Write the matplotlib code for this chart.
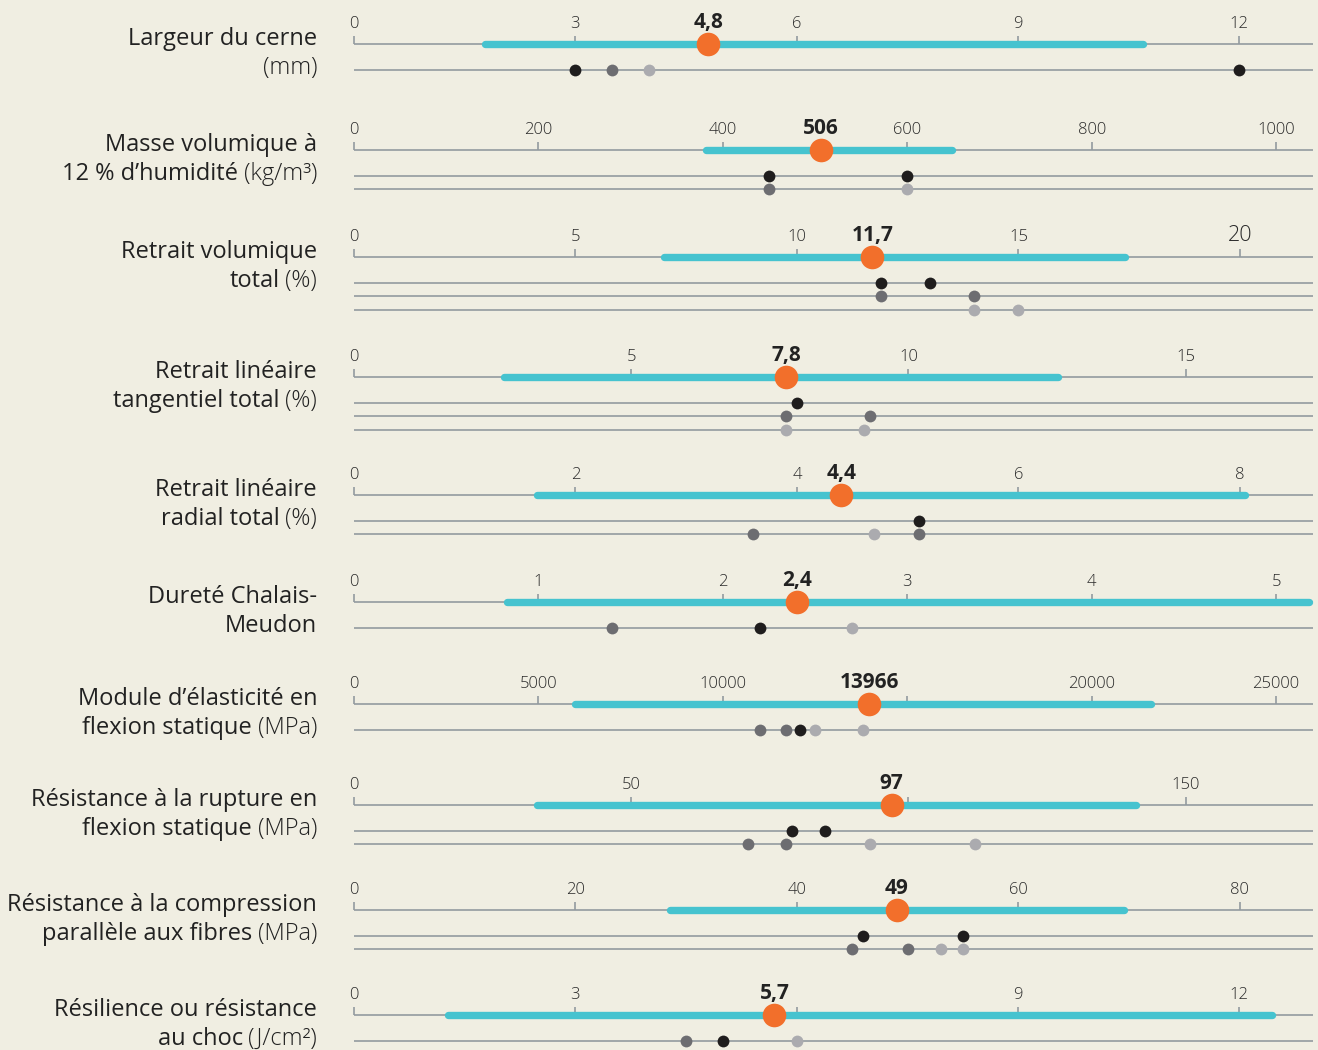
import matplotlib
matplotlib.use("Agg")
import matplotlib.pyplot as plt

# ---------------- data ----------------
label_line1 = ["Largeur du cerne", "Masse volumique à", "Retrait volumique", "Retrait linéaire",
               "Retrait linéaire", "Dureté Chalais-", "Module d’élasticité en",
               "Résistance à la rupture en", "Résistance à la compression", "Résilience ou résistance"]
label_line2 = ["", "12 % d’humidité", "total", "tangentiel total", "radial total", "Meudon",
               "flexion statique", "flexion statique", "parallèle aux fibres", "au choc"]
units = ["(mm)", "(kg/m³)", "(%)", "(%)", "(%)", "", "(MPa)", "(MPa)", "(MPa)", "(J/cm²)"]

x_max = [13.0, 1040, 21.65, 17.3, 8.66, 5.2, 26000, 173, 86.6, 13.0]
ticks = [[0, 3, 6, 9, 12], [0, 200, 400, 600, 800, 1000], [0, 5, 10, 15, 20], [0, 5, 10, 15],
         [0, 2, 4, 6, 8], [0, 1, 2, 3, 4, 5], [0, 5000, 10000, 15000, 20000, 25000],
         [0, 50, 100, 150], [0, 20, 40, 60, 80], [0, 3, 6, 9, 12]]
range_lo = [1.78, 382, 7.0, 2.7, 1.65, 0.83, 5980, 33, 28.5, 1.28]
range_hi = [10.7, 648, 17.4, 12.7, 8.05, 5.18, 21600, 141, 69.5, 12.45]
means = [4.8, 506, 11.7, 7.8, 4.4, 2.4, 13966, 97, 49, 5.7]

# comparison dots: per row, per line, (value, shade)
dots = [
    [[(3.0, "k"), (3.5, "d"), (4.0, "l"), (12.0, "k")]],
    [[(450, "k"), (600, "k")], [(450, "d"), (600, "l")]],
    [[(11.9, "k"), (13.0, "k")], [(11.9, "d"), (14.0, "d")], [(14.0, "l"), (15.0, "l")]],
    [[(8.0, "k")], [(7.8, "d"), (9.3, "d")], [(7.8, "l"), (9.2, "l")]],
    [[(5.1, "k")], [(3.6, "d"), (4.7, "l"), (5.1, "d")]],
    [[(1.4, "d"), (2.2, "k"), (2.7, "l")]],
    [[(11000, "d"), (11700, "d"), (12100, "k"), (12500, "l"), (13800, "l")]],
    [[(79, "k"), (85, "k")], [(71, "d"), (78, "d"), (93, "l"), (112, "l")]],
    [[(46, "k"), (55, "k")], [(45, "d"), (50, "d"), (53, "l"), (55, "l")]],
    [[(4.5, "d"), (5.0, "k"), (6.0, "l")]],
]

# ---------------- style / layout ----------------
W, H = 1318, 1050
BG = "#F0EEE2"
CYAN = "#46C3CF"
ORANGE = "#F26F2B"
AXIS = "#939A9F"
SHADES = {"k": "#1F1D1D", "d": "#6D6D71", "l": "#ABABAF"}
TXT = "#222222"
FONT = ["Open Sans", "DejaVu Sans"]
row_y = [44, 150, 257, 377, 495, 602, 704, 805, 910, 1015]
AX_L, AX_R = 354, 1313
LABEL_X = 317
LFS = 17

plt.rcParams["font.family"] = FONT

fig = plt.figure(figsize=(W / 100, H / 100), dpi=100)
fig.patch.set_facecolor(BG)

lab_ax = fig.add_axes([0, 0, 1, 1])
lab_ax.set_xlim(0, W)
lab_ax.set_ylim(H, 0)
lab_ax.axis("off")
lab_ax.patch.set_visible(False)

for i in range(len(row_y)):
    y = row_y[i]
    ax = fig.add_axes([AX_L / W, 0, (AX_R - AX_L) / W, 1])
    ax.set_xlim(0, x_max[i])
    ax.set_ylim(H, 0)
    ax.axis("off")
    ax.patch.set_visible(False)
    px_per = (AX_R - AX_L) / x_max[i]

    # main axis line + ticks
    ax.plot([0, x_max[i]], [y, y], color=AXIS, lw=1.2, solid_capstyle="butt", clip_on=False, zorder=1)
    ax.vlines(ticks[i], y - 8, y, color=AXIS, lw=1.2, clip_on=False, zorder=1)
    for t in ticks[i]:
        if abs(t - means[i]) * px_per < 40:
            continue
        fs = 15.5 if (i == 2 and t == 20) else 12
        ax.text(t, y - 16, f"{t}", ha="center", va="baseline", fontsize=fs,
                fontweight="light", color="#2A2A2A", clip_on=False)

    # range bar
    ax.plot([range_lo[i], range_hi[i]], [y, y], color=CYAN, lw=5.3,
            solid_capstyle="round", clip_on=False, zorder=2)
    # mean
    ax.plot([means[i]], [y], "o", ms=17, color=ORANGE, mec="none", clip_on=False, zorder=4)
    ax.text(means[i], y - 16, f"{means[i]:g}".replace(".", ","), ha="center", va="baseline",
            fontsize=15, fontweight="bold", color=TXT, clip_on=False, zorder=5)

    # comparison lines
    for j, line in enumerate(dots[i]):
        yy = y + 26 + 13.3 * j
        ax.plot([0, x_max[i]], [yy, yy], color=AXIS, lw=1.2, solid_capstyle="butt",
                clip_on=False, zorder=1)
        for v, s in line:
            ax.plot([v], [yy], "o", ms=8.5, color=SHADES[s], mec="none", clip_on=False, zorder=3)

    # row labels
    lab_ax.text(LABEL_X, y + 1, label_line1[i], ha="right", va="baseline",
                fontsize=LFS, color=TXT)
    y2 = y + 30
    if units[i]:
        ut = lab_ax.text(LABEL_X, y2, units[i], ha="right", va="baseline",
                         fontsize=LFS, fontweight="light", color=TXT)
        if label_line2[i]:
            lab_ax.annotate(label_line2[i], xy=(0, 0), xycoords=ut, xytext=(-4, 0),
                            textcoords="offset points", ha="right", va="bottom",
                            fontsize=LFS, color=TXT)
    else:
        lab_ax.text(LABEL_X, y2, label_line2[i], ha="right", va="baseline",
                    fontsize=LFS, color=TXT)

fig.savefig("out.png", dpi=100, facecolor=BG)
